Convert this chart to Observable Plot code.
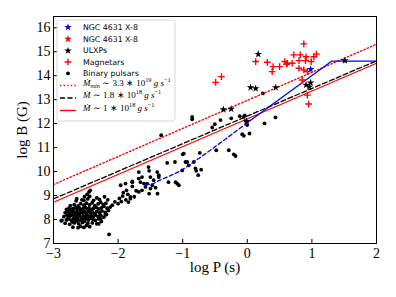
<!DOCTYPE html>
<html><head><meta charset="utf-8">
<script src="https://cdn.jsdelivr.net/npm/d3@7"></script>
<script src="https://cdn.jsdelivr.net/npm/@observablehq/plot@0.6"></script>
<style>body{margin:0;background:#fff} #chart svg{display:block}</style>
</head><body><div id="chart"></div>
<script>
const xTicks = [-3, -2, -1, 0, 1, 2];
const yTicks = [7, 8, 9, 10, 11, 12, 13, 14, 15, 16];

// Binary pulsars [log P, log B]
const binaryPulsars = [
[-2.70,7.68],[-2.62,7.66],[-2.53,7.67],[-2.44,7.70],[-2.58,7.72],[-2.49,7.75],
[-2.82,7.84],[-2.75,7.80],[-2.68,7.86],[-2.61,7.82],[-2.55,7.88],[-2.47,7.84],[-2.40,7.86],[-2.33,7.82],[-2.71,7.90],[-2.64,7.92],[-2.52,7.93],
[-2.88,7.95],[-2.80,7.98],[-2.76,8.02],[-2.72,7.96],[-2.69,8.04],[-2.66,7.99],[-2.63,8.03],[-2.59,7.97],[-2.56,8.05],[-2.53,8.00],[-2.50,8.04],[-2.46,7.98],[-2.43,8.05],[-2.39,8.01],[-2.35,7.96],[-2.30,8.03],[-2.26,7.92],
[-2.84,8.12],[-2.79,8.18],[-2.77,8.10],[-2.74,8.15],[-2.71,8.20],[-2.68,8.11],[-2.65,8.17],[-2.62,8.13],[-2.60,8.21],[-2.57,8.09],[-2.54,8.16],[-2.51,8.12],[-2.48,8.19],[-2.45,8.10],[-2.42,8.17],[-2.38,8.13],[-2.35,8.20],[-2.31,8.12],[-2.27,8.18],[-2.22,8.10],[-2.18,8.21],
[-2.82,8.28],[-2.78,8.33],[-2.75,8.26],[-2.72,8.31],[-2.69,8.36],[-2.67,8.27],[-2.64,8.32],[-2.61,8.25],[-2.58,8.34],[-2.55,8.28],[-2.52,8.33],[-2.49,8.26],[-2.46,8.35],[-2.43,8.29],[-2.40,8.33],[-2.37,8.26],[-2.33,8.34],[-2.29,8.28],[-2.25,8.36],[-2.20,8.30],[-2.15,8.38],
[-2.80,8.42],[-2.76,8.47],[-2.73,8.40],[-2.70,8.45],[-2.66,8.50],[-2.63,8.43],[-2.60,8.48],[-2.57,8.41],[-2.54,8.46],[-2.51,8.52],[-2.48,8.44],[-2.45,8.49],[-2.41,8.42],[-2.38,8.47],[-2.34,8.51],[-2.30,8.44],[-2.26,8.49],[-2.22,8.55],[-2.17,8.47],[-2.12,8.52],
[-2.74,8.58],[-2.68,8.62],[-2.62,8.57],[-2.58,8.66],[-2.53,8.60],[-2.49,8.68],[-2.44,8.62],[-2.40,8.70],[-2.36,8.58],[-2.31,8.65],[-2.27,8.72],[-2.23,8.62],[-2.19,8.68],[-2.09,8.60],[-2.05,8.74],
[-2.65,8.78],[-2.56,8.82],[-2.47,8.86],[-2.44,8.96],[-2.38,8.80],[-2.33,8.90],[-2.29,8.84],[-2.21,8.95],[-2.16,8.82],[-1.98,8.88],[-1.93,8.98],[-2.48,9.05],[-2.52,8.95],
[-2.45,9.15],[-2.43,9.22],[-2.64,8.87],[-2.53,8.80],
[-2.14,7.38],[-2.87,7.96],[-2.195,8.21],[-2.27,8.03],[-2.30,7.82],
[-2.00,8.66],[-1.95,8.75],[-1.88,8.82],[-1.85,9.05],[-1.75,8.95],[-1.72,9.20],[-1.92,9.12],[-1.78,9.38],[-1.96,9.43],[-1.885,9.50],[-1.78,9.59],[-1.87,9.22],[-1.81,8.87],[-1.84,8.73],[-1.81,8.94],
[-1.68,9.15],[-1.52,9.08],[-1.39,9.08],[-1.63,9.22],[-1.50,9.29],[-1.576,9.36],[-1.42,9.33],[-1.47,9.43],[-1.60,9.50],[-1.55,9.50],[-1.653,9.56],[-1.78,9.56],[-1.45,9.64],[-1.68,9.71],[-1.63,9.77],[-1.50,9.77],[-1.37,9.77],[-1.37,9.85],[-1.395,9.98],[-1.68,9.98],[-1.52,10.03],[-1.53,10.19],
[-1.22,9.56],[-1.11,9.56],[-1.085,9.50],[-1.06,9.43],[-1.24,10.36],[-1.12,10.40],[-0.93,10.40],[-1.00,10.72],[-0.79,10.03],[-0.76,9.85],[-1.008,10.05],[-0.957,10.40],[-0.983,10.75],[-0.735,10.78],[-0.828,10.40],[-0.906,10.26],[-0.802,10.13],[-0.714,10.08],[-1.333,11.52],
[-0.481,10.89],[-0.286,10.89],[-0.209,10.72],[-0.183,10.65],[-0.503,11.98],[-0.543,11.84],[-0.853,12.28],[-0.853,12.18],[-0.415,12.15],[-0.249,12.22],[-0.116,12.31],[-0.054,12.28],[-0.039,12.34],[-0.028,12.12],[-0.002,11.94],[-0.079,11.56],[0.034,11.59],[-0.054,11.49],[0.266,12.01],[0.240,13.26],[0.437,12.26]
];

// Magnetars [log P, log B]
const magnetars = [
[-0.49,13.72],[-0.40,13.96],[0.13,14.59],[0.31,14.56],[0.40,14.38],[0.385,14.17],[0.50,14.38],[0.58,14.59],[0.61,14.48],
[0.875,15.33],[0.72,14.87],[0.82,14.87],[0.91,14.79],[1.03,14.79],[1.07,14.90],[0.62,14.52],[0.695,14.52],[0.80,14.63],
[0.90,14.63],[0.99,14.59],[0.80,14.31],[0.875,14.24],[0.93,14.17],[0.85,13.82],[0.93,13.19],[0.95,12.82]
];

// ULXPs [log P, log B]
const ulxps = [
[0.17,14.90],[0.05,13.51],[0.13,13.47],[0.44,13.51],[-0.37,12.59],[-0.25,12.61],[1.51,14.63],[0.91,13.61],[0.98,13.71],[0.96,13.54],[-0.01,12.10]
];

// NGC 4631 X-8
const ngcStar = [[0.98,14.27]];
const ngcDashP = [-1.58,-1.47,-1.37,-1.24,-1.03,-0.83,-0.65,-0.35,0.02];
const ngcDashB = [9.44,9.48,9.62,9.77,10.03,10.40,10.74,11.33,12.08];
const ngcSolidP = [0.02,1.31,2.0];
const ngcSolidB = [12.08,14.61,14.61];

// spin-equilibrium lines
const eqP = [-3, 2];
const mdotMinB = [9.46, 15.31];
const mdot18B = [8.86, 14.62];
const mdot1B = [8.72, 14.52];

const legendLabels = ["NGC 4631 X-8", "NGC 4631 X-8", "ULXPs", "Magnetars", "Binary pulsars"];

const pts = arr => arr.map(([p, b]) => ({p, b}));
const rows = (ps, bs) => ps.map((p, i) => ({p, b: bs[i]}));
const fmt = d3.format("d");

const chart = Plot.plot({
  width: 396, height: 297,
  marginLeft: 53, marginRight: 20, marginTop: 16, marginBottom: 54,
  style: {fontFamily: "'Liberation Serif', serif", fontSize: "14px", background: "white", color: "black"},
  x: {domain: [-3, 2]},
  y: {domain: [7, 16.47]},
  marks: [
    Plot.dot(pts(binaryPulsars), {x: "p", y: "b", r: 1.9, fill: "black"}),
    Plot.line(rows(eqP, mdotMinB), {x: "p", y: "b", stroke: "red", strokeWidth: 1.4, strokeDasharray: "1.4,2.2"}),
    Plot.line(rows(eqP, mdot18B), {x: "p", y: "b", stroke: "black", strokeWidth: 1.3, strokeDasharray: "5,2.5"}),
    Plot.line(rows(eqP, mdot1B), {x: "p", y: "b", stroke: "red", strokeWidth: 1.3}),
    Plot.line(rows(ngcDashP, ngcDashB), {x: "p", y: "b", stroke: "blue", strokeWidth: 1.3, strokeDasharray: "4,2.5"}),
    Plot.line(rows(ngcSolidP, ngcSolidB), {x: "p", y: "b", stroke: "blue", strokeWidth: 1.3}),
    Plot.dot(pts(magnetars), {x: "p", y: "b", symbol: "plus", r: 2.3, stroke: "red", strokeWidth: 1.4}),
    Plot.dot(pts(ulxps), {x: "p", y: "b", symbol: "star", r: 2.4, fill: "black"}),
    Plot.dot(pts(ngcStar), {x: "p", y: "b", symbol: "star", r: 2.4, fill: "blue"}),
    Plot.frame({stroke: "black", strokeWidth: 1}),
    Plot.axisX({ticks: xTicks, tickFormat: fmt, tickSize: 0, tickPadding: 5, label: null}),
    Plot.axisY({ticks: yTicks, tickFormat: fmt, tickSize: 0, tickPadding: 3, label: null}),
    Plot.axisX({ticks: xTicks, tickSize: -4, text: null, label: null}),
    Plot.axisY({ticks: yTicks, tickSize: -4, text: null, label: null}),
    Plot.text(["log P (s)"], {frameAnchor: "bottom", dy: 28, fontSize: 15, textAnchor: "middle"}),
    Plot.text(["log B (G)"], {frameAnchor: "left", dx: -31, rotate: -90, fontSize: 15, textAnchor: "middle"})
  ]
});
document.getElementById("chart").appendChild(chart);

// Legend
const svg = d3.select(chart);
const lg = svg.append("g").attr("text-anchor", "start");
lg.append("rect").attr("x", 57).attr("y", 20).attr("width", 118).attr("height", 101).attr("rx", 2.5)
  .attr("fill", "white").attr("fill-opacity", 0.8).attr("stroke", "#cccccc").attr("stroke-width", 0.8);
const rowY = [27.3, 39, 50.7, 62, 73.3, 85.5, 98, 110.5];
const mx = 68, tx = 83;
const starPath = d3.symbol(d3.symbolStar, 2.4 * 2.4 * Math.PI)();
const plusPath = d3.symbol(d3.symbolPlus, 2.3 * 2.3 * Math.PI)();
[["blue", starPath], ["red", starPath], ["black", starPath]].forEach(([c, p], i) => {
  lg.append("path").attr("d", p).attr("fill", c).attr("transform", `translate(${mx},${rowY[i]})`);
});
lg.append("path").attr("d", plusPath).attr("fill", "none").attr("stroke", "red").attr("stroke-width", 1.4)
  .attr("transform", `translate(${mx},${rowY[3]})`);
lg.append("circle").attr("cx", mx).attr("cy", rowY[4]).attr("r", 1.9).attr("fill", "black");
legendLabels.forEach((t, i) => {
  lg.append("text").attr("x", tx).attr("y", rowY[i]).attr("dy", "0.35em").attr("text-anchor", "start")
    .attr("font-family", "'DejaVu Sans', sans-serif").attr("font-size", 7.8).text(t);
});
const lineStyles = [["red", "1.4,2.2", 1.4], ["black", "5,2.5", 1.3], ["red", null, 1.3]];
lineStyles.forEach(([c, d, w], i) => {
  const l = lg.append("line").attr("x1", 60).attr("x2", 76).attr("y1", rowY[5 + i]).attr("y2", rowY[5 + i])
    .attr("stroke", c).attr("stroke-width", w);
  if (d) l.attr("stroke-dasharray", d);
});
const mathRows = [
  [["Ṁ", "i"], ["min", "sub"], [" ∼ 3.3 ∗ 10", "r"], ["19", "sup"], [" g s", "i"], ["−1", "sup"]],
  [["Ṁ", "i"], [" ∼ 1.8 ∗ 10", "r"], ["18", "sup"], [" g s", "i"], ["−1", "sup"]],
  [["Ṁ", "i"], [" ∼ 1 ∗ 10", "r"], ["18", "sup"], [" g s", "i"], ["−1", "sup"]]
];
mathRows.forEach((parts, i) => {
  const t = lg.append("text").attr("x", tx).attr("y", rowY[5 + i]).attr("dy", "0.35em").attr("text-anchor", "start")
    .attr("font-family", "'Liberation Serif', serif").attr("font-size", 9).attr("xml:space", "preserve");
  let shift = 0;
  parts.forEach(([s, k]) => {
    const target = k === "sup" ? -3.6 : k === "sub" ? 2 : 0;
    const ts = t.append("tspan").attr("dy", target - shift).text(s);
    shift = target;
    if (k === "i" || k === "sub") ts.attr("font-style", "italic");
    if (k === "sup" || k === "sub") ts.attr("font-size", 6.3);
  });
});
</script>
</body></html>
